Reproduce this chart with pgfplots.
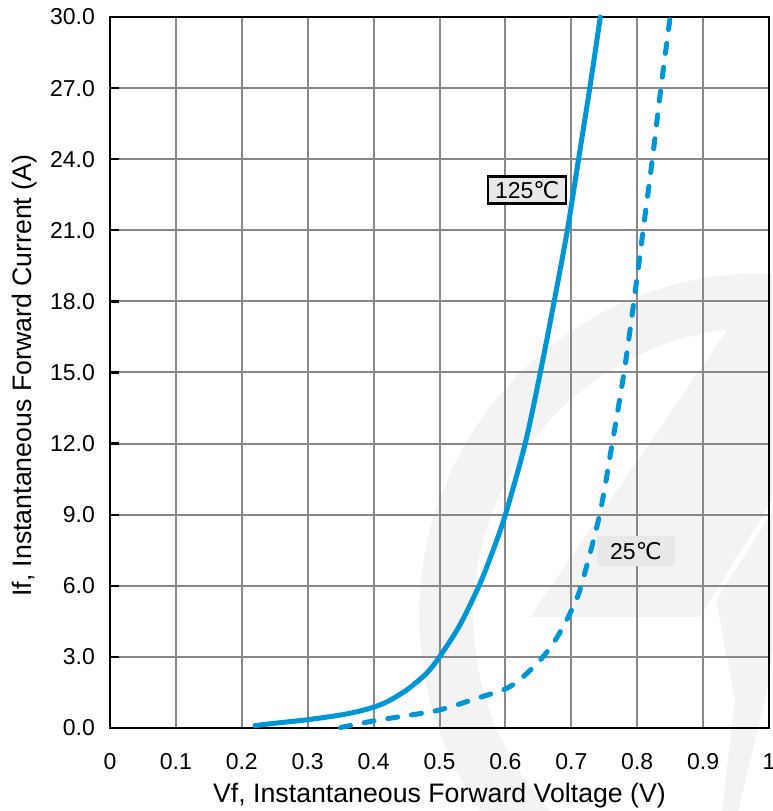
\documentclass[border=0pt]{standalone}
\usepackage{pgfplots}
\pgfplotsset{compat=1.18}
\usepackage{fontspec}
\setmainfont{Liberation Sans}
\newfontfamily\djv{DejaVu Sans}
\definecolor{cblue}{RGB}{0,150,214}
\definecolor{gridg}{RGB}{136,136,136}
\definecolor{boxg}{RGB}{232,232,232}
\definecolor{wm}{RGB}{243,243,243}
\begin{document}
\begin{tikzpicture}
\begin{axis}[
  set layers,
  anchor=south west, at={(0pt,0pt)},
  scale only axis, width=659pt, height=711pt,
  xmin=0, xmax=1, ymin=0, ymax=30,
  xtick={0,0.1,...,1.01}, ytick={0,3,...,30},
  xticklabels={0,0.1,0.2,0.3,0.4,0.5,0.6,0.7,0.8,0.9,1},
  /pgf/number format/assume math mode=true,
  yticklabel style={/pgf/number format/fixed,/pgf/number format/fixed zerofill,/pgf/number format/precision=1},
  ticklabel style={font=\fontsize{23}{27}\selectfont, inner sep=0pt},
  xticklabel shift=25pt, yticklabel shift=15pt,
  grid=major, major grid style={gridg, line width=2pt},
  axis line style={black, line width=2.3pt},
  x tick style={draw=none}, y tick style={black, line width=2.3pt},
  tick align=inside, major tick length=9pt,
  ytick pos=left, xtick pos=bottom,
  xlabel={Vf, Instantaneous Forward Voltage (V)},
  ylabel={If, Instantaneous Forward Current (A)},
  xlabel style={font=\fontsize{26.7}{31}\selectfont, at={(axis description cs:0.5,-0.0956)}, anchor=center},
  ylabel style={font=\fontsize{26.7}{31}\selectfont, at={(axis description cs:-0.129,0.4955)}, anchor=center},
  clip=false,
]
% faint background watermark
\begin{pgfonlayer}{axis background}
\fill[wm, even odd rule] (axis cs:0.9883,4.747) circle[radius=342pt] (axis cs:0.9883,4.747) circle[radius=288pt];
\fill[wm] (axis cs:0.9408,16.96) -- (axis cs:0.6373,4.684) -- (axis cs:0.8953,4.684) -- (axis cs:1.0091,9.831) -- (axis cs:1.0091,16.96) -- cycle;
\fill[wm] (axis cs:1.0091,9.283) -- (axis cs:0.9196,5.401) -- (axis cs:0.9484,1.181) -- (axis cs:0.9287,-3.502) -- (axis cs:0.9530,-3.502) -- (axis cs:0.9939,1.181) -- (axis cs:1.0091,3.713) -- cycle;
\end{pgfonlayer}
\addplot[cblue, line width=5pt, smooth, line cap=round] coordinates {
(0.22,0.1) (0.25,0.2) (0.30,0.35) (0.35,0.55) (0.38,0.72) (0.40,0.88)
(0.42,1.1) (0.45,1.6) (0.48,2.3) (0.50,3.0) (0.53,4.3) (0.56,6.0)
(0.58,7.4) (0.60,9.0) (0.63,12.0) (0.653,15.0) (0.674,18.0)
(0.694,21.0) (0.711,24.0) (0.728,27.0) (0.744,30.0)
};
\addplot[cblue, line width=5pt, smooth, line cap=round, dash pattern=on 10pt off 14pt] coordinates {
(0.35,0.02) (0.40,0.3) (0.45,0.52) (0.50,0.76) (0.56,1.28) (0.60,1.65)
(0.62,2.0) (0.64,2.5) (0.66,3.1) (0.68,3.9) (0.70,4.95) (0.715,6.0)
(0.743,9.0) (0.762,12.0) (0.78,15.0) (0.795,18.0) (0.809,21.0)
(0.823,24.0) (0.836,27.0) (0.85,30.0)
};
\node[draw=black, line width=2.3pt, fill=boxg, inner sep=3pt, minimum width=78pt, minimum height=27pt, font=\fontsize{23}{27}\selectfont] at (axis cs:0.633,22.7) {125{\djv ℃}};
\node[fill=boxg, inner sep=3pt, minimum width=78pt, minimum height=30pt, font=\fontsize{23}{27}\selectfont] at (axis cs:0.798,7.47) {25{\djv ℃}};
\end{axis}
\pgfresetboundingbox
\path (-110pt,-83pt) rectangle (663pt,728pt);
\end{tikzpicture}
\end{document}
